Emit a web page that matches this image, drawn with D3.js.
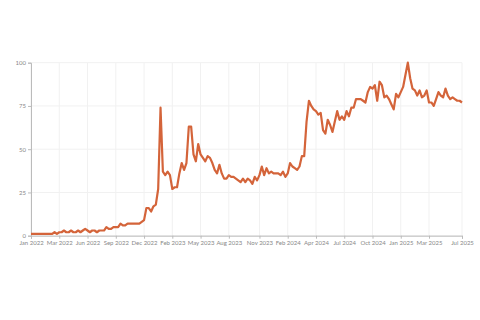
<!DOCTYPE html>
<html>
<head>
<meta charset="utf-8">
<script src="https://cdn.jsdelivr.net/npm/d3@7"></script>
<style>
  html, body { margin: 0; padding: 0; background: #fff; }
  .axis text { font-family: Lato, "Open Sans", sans-serif; font-size: 6px; fill: #888; }
  .axis path, .axis line { stroke: #bbb; }
  .grid line { stroke: #f1f1f1; }
</style>
</head>
<body>
<div class="chart"></div>
<script>
document.addEventListener("DOMContentLoaded", function(event) {

  // weekly interest, first week starting Jan 2 2022
  var startDate = new Date(2022, 0, 2);
  var values = [
    1,1,1,1,1,1,1,1,1,1, 2,1,2,2,3,2,2,3,2,2,
    3,2,3,4,3,2,3,3,2,3, 3,3,5,4,4,5,5,5,7,6,
    6,7,7,7,7,7,7,8,9,16, 16,14,17,18,27,74,37,35,37,35,
    27,28,28,36,42,38,42,63,63,47, 43,53,47,45,43,46,45,42,38,36,
    41,36,33,33,35,34,34,33,32,31, 33,31,33,32,30,34,32,35,40,35,
    39,36,37,36,36,36,35,37,34,36, 42,40,39,38,40,46,46,66,78,75,
    73,72,70,71,61,59,67,64,60,66, 72,67,69,67,72,69,74,74,79,79,
    79,78,77,83,86,85,87,78,89,87, 80,81,79,76,73,82,80,83,86,93,
    100,91,85,84,81,84,80,81,84,77, 77,75,79,83,81,80,85,81,79,80,
    79,78,78,77
  ];
  var yTicks = [0, 25, 50, 75, 100];
  var xTickCount = 15;

  var w = 480, h = 320;
  var left = 31, right = 462, top = 62.7, bottom = 235.7;

  var dates = values.map(function(v, i) { return d3.timeDay.offset(startDate, i * 7); });
  var data = values.map(function(v, i) { return { date: dates[i], value: v }; });

  var xTicks = d3.range(xTickCount).map(function(k) {
    return dates[Math.floor(k * (values.length - 2) / xTickCount)];
  });
  xTicks.push(dates[dates.length - 1]);

  var x = d3.scaleTime().domain(d3.extent(dates)).range([left, right]);
  var y = d3.scaleLinear().domain([0, 100]).range([bottom, top]);

  var svg = d3.select(".chart")
              .append("svg")
              .attr("width", w)
              .attr("height", h);

  // grid
  svg.append("g")
     .attr("class", "grid")
     .selectAll("line.v")
     .data(xTicks)
     .enter().append("line")
     .attr("x1", function(d) { return x(d); })
     .attr("x2", function(d) { return x(d); })
     .attr("y1", top)
     .attr("y2", bottom);
  svg.append("g")
     .attr("class", "grid")
     .selectAll("line.h")
     .data(yTicks)
     .enter().append("line")
     .attr("x1", left)
     .attr("x2", right)
     .attr("y1", function(d) { return y(d); })
     .attr("y2", function(d) { return y(d); });

  svg.append("g")
     .attr("class", "axis")
     .attr("transform", "translate(" + left + ",0)")
     .call(d3.axisLeft(y).tickValues(yTicks).tickSize(3).tickPadding(2));

  svg.append("g")
     .attr("class", "axis")
     .attr("transform", "translate(0," + bottom + ")")
     .call(d3.axisBottom(x).tickValues(xTicks).tickSize(3).tickPadding(2)
             .tickFormat(d3.timeFormat("%b %Y")));

  var line = d3.line()
               .x(function(d) { return x(d.date); })
               .y(function(d) { return y(d.value); });

  svg.append("path")
     .datum(data)
     .attr("fill", "none")
     .attr("stroke", "#d4643a")
     .attr("stroke-width", 2.2)
     .attr("stroke-linejoin", "round")
     .attr("d", line);
});
</script>
</body>
</html>
